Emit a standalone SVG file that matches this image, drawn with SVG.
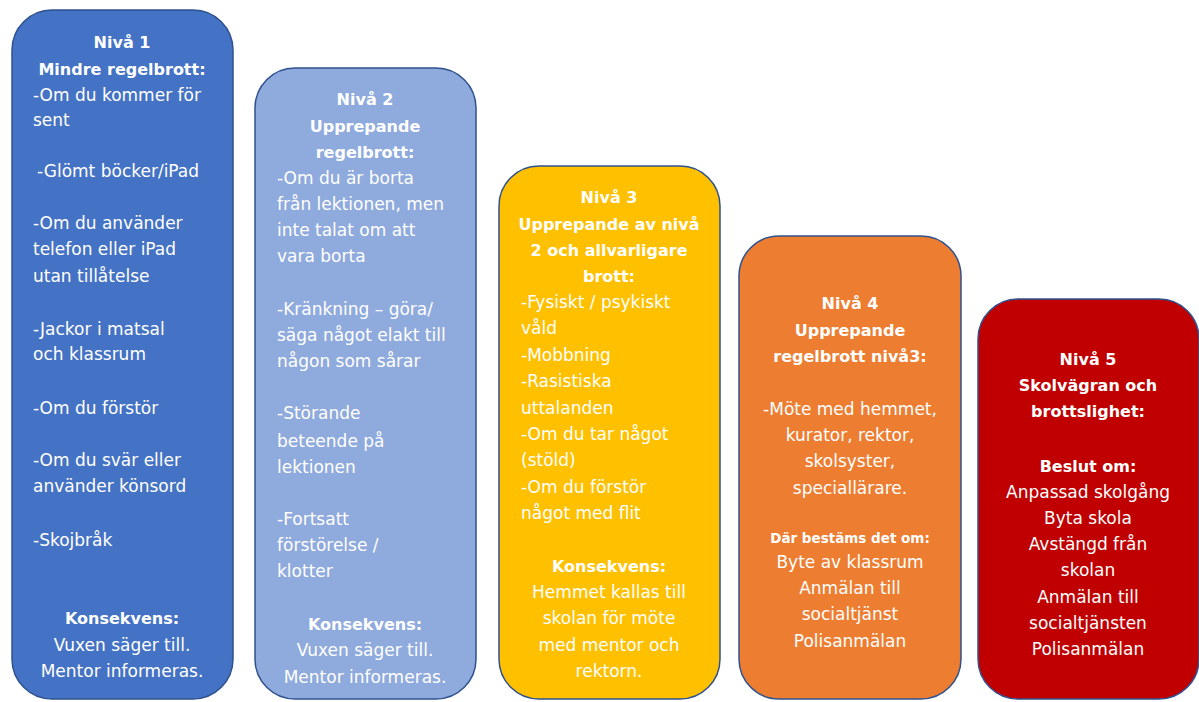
<svg xmlns="http://www.w3.org/2000/svg" width="1199" height="702" viewBox="0 0 1199 702">
<style>
.box{stroke:#2F528F;stroke-width:1.5}
text{font-family:"Comic Sans MS","DejaVu Sans",sans-serif;font-size:17px;fill:#ffffff}
.b{font-weight:bold;font-size:16px}
.c{text-anchor:middle}
.s{font-size:13.5px}
</style>
<rect width="1199" height="702" fill="#ffffff"/>
<g id="niva1">
<rect class="box" x="12" y="10" width="221" height="689" rx="40" fill="#4472C4"/>
<text class="b c" x="122" y="48">Nivå 1</text>
<text class="b c" x="122" y="75">Mindre regelbrott:</text>
<text x="33" y="101">-Om du kommer för</text>
<text x="33" y="126">sent</text>
<text x="37" y="177">-Glömt böcker/iPad</text>
<text x="33" y="229">-Om du använder</text>
<text x="33" y="255">telefon eller iPad</text>
<text x="33" y="282">utan tillåtelse</text>
<text x="33" y="335">-Jackor i matsal</text>
<text x="33" y="360">och klassrum</text>
<text x="33" y="414">-Om du förstör</text>
<text x="33" y="466">-Om du svär eller</text>
<text x="33" y="492">använder könsord</text>
<text x="33" y="546">-Skojbråk</text>
<text class="b c" x="122" y="624">Konsekvens:</text>
<text class="c" x="122" y="651">Vuxen säger till.</text>
<text class="c" x="122" y="677">Mentor informeras.</text>
</g>
<g id="niva2">
<rect class="box" x="255" y="68" width="221" height="631" rx="40" fill="#8FAADC"/>
<text class="b c" x="365" y="105">Nivå 2</text>
<text class="b c" x="365" y="132">Upprepande</text>
<text class="b c" x="365" y="158">regelbrott:</text>
<text x="277" y="184">-Om du är borta</text>
<text x="277" y="210">från lektionen, men</text>
<text x="277" y="236">inte talat om att</text>
<text x="277" y="262">vara borta</text>
<text x="277" y="315">-Kränkning – göra/</text>
<text x="277" y="341">säga något elakt till</text>
<text x="277" y="367">någon som sårar</text>
<text x="277" y="419">-Störande</text>
<text x="277" y="447">beteende på</text>
<text x="277" y="473">lektionen</text>
<text x="277" y="525">-Fortsatt</text>
<text x="277" y="551">förstörelse /</text>
<text x="277" y="577">klotter</text>
<text class="b c" x="365" y="630">Konsekvens:</text>
<text class="c" x="365" y="656">Vuxen säger till.</text>
<text class="c" x="365" y="683">Mentor informeras.</text>
</g>
<g id="niva3">
<rect class="box" x="499" y="166" width="221" height="533" rx="40" fill="#FFC000"/>
<text class="b c" x="609" y="203">Nivå 3</text>
<text class="b c" x="609" y="230">Upprepande av nivå</text>
<text class="b c" x="609" y="256">2 och allvarligare</text>
<text class="b c" x="609" y="282">brott:</text>
<text x="521" y="308">-Fysiskt / psykiskt</text>
<text x="521" y="334">våld</text>
<text x="521" y="361">-Mobbning</text>
<text x="521" y="387">-Rasistiska</text>
<text x="521" y="414">uttalanden</text>
<text x="521" y="440">-Om du tar något</text>
<text x="521" y="466">(stöld)</text>
<text x="521" y="493">-Om du förstör</text>
<text x="521" y="519">något med flit</text>
<text class="b c" x="609" y="572">Konsekvens:</text>
<text class="c" x="609" y="598">Hemmet kallas till</text>
<text class="c" x="609" y="624">skolan för möte</text>
<text class="c" x="609" y="651">med mentor och</text>
<text class="c" x="609" y="677">rektorn.</text>
</g>
<g id="niva4">
<rect class="box" x="739" y="236" width="222" height="463" rx="40" fill="#ED7D31"/>
<text class="b c" x="850" y="309">Nivå 4</text>
<text class="b c" x="850" y="336">Upprepande</text>
<text class="b c" x="850" y="362">regelbrott nivå3:</text>
<text class="c" x="850" y="415">-Möte med hemmet,</text>
<text class="c" x="850" y="441">kurator, rektor,</text>
<text class="c" x="850" y="467">skolsyster,</text>
<text class="c" x="850" y="494">speciallärare.</text>
<text class="b c s" x="850" y="543">Där bestäms det om:</text>
<text class="c" x="850" y="568">Byte av klassrum</text>
<text class="c" x="850" y="594">Anmälan till</text>
<text class="c" x="850" y="620">socialtjänst</text>
<text class="c" x="850" y="647">Polisanmälan</text>
</g>
<g id="niva5">
<rect class="box" x="978" y="299" width="221" height="400" rx="40" fill="#C00000"/>
<text class="b c" x="1088" y="365">Nivå 5</text>
<text class="b c" x="1088" y="391">Skolvägran och</text>
<text class="b c" x="1088" y="417">brottslighet:</text>
<text class="b c" x="1088" y="472">Beslut om:</text>
<text class="c" x="1088" y="498">Anpassad skolgång</text>
<text class="c" x="1088" y="524">Byta skola</text>
<text class="c" x="1088" y="550">Avstängd från</text>
<text class="c" x="1088" y="576">skolan</text>
<text class="c" x="1088" y="603">Anmälan till</text>
<text class="c" x="1088" y="629">socialtjänsten</text>
<text class="c" x="1088" y="655">Polisanmälan</text>
</g>
<g id="connectors"/>
</svg>
